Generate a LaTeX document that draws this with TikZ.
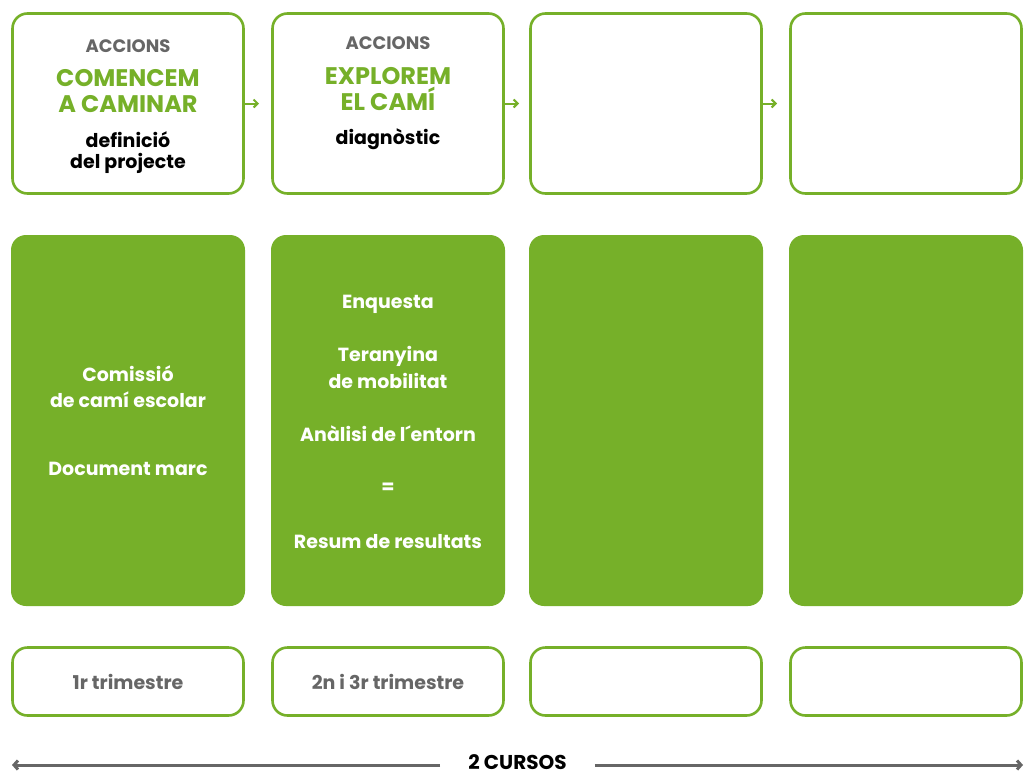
\documentclass[tikz,border=0pt]{standalone}
\usepackage{fontspec}
\setmainfont{Poppins}
\usetikzlibrary{arrows.meta}
\definecolor{verd}{RGB}{118,176,41}
\definecolor{gris}{RGB}{102,102,102}

\begin{document}
\begin{tikzpicture}[x=1pt,y=-1pt,
	caixa/.style={draw=verd, line width=2.6pt, rounded corners=15pt, minimum width=231pt, inner sep=0pt},
	ple/.style={fill=verd, rounded corners=15pt, minimum width=234pt, minimum height=371pt, inner sep=0pt},
	txt/.style={anchor=base, inner sep=0pt, font=\bfseries\fontsize{19}{22}\selectfont},
	accions/.style={txt, text=gris, font=\bfseries\fontsize{18}{21}\selectfont},
	titol/.style={txt, text=verd, font=\bfseries\fontsize{24}{27}\selectfont},
	fletxa/.style={draw=verd, line width=2pt, -{Straight Barb[length=4pt,width=8pt]}}]
		\useasboundingbox[fill=white] (0,0) rectangle (1031,774);
		
		% fila de dalt
		\node[caixa, minimum height=180pt] (t1) at (128,103.5) {};
		\node[caixa, minimum height=180pt] (t2) at (388,103.5) {};
		\node[caixa, minimum height=180pt] (t3) at (646,103.5) {};
		\node[caixa, minimum height=180pt] (t4) at (906,103.5) {};
		
		\node[accions] (acc1) at (128,52) {ACCIONS};
		\node[titol] (com1) at (128,86) {COMENCEM};
		\node[titol] (com2) at (128,112) {A CAMINAR};
		\node[txt] (def1) at (128,147) {definició};
		\node[txt] (def2) at (128,168) {del projecte};
		
		\node[accions] (acc2) at (388,49) {ACCIONS};
		\node[titol] (exp1) at (388,84) {EXPLOREM};
		\node[titol] (exp2) at (388,110) {EL CAMÍ};
		\node[txt] (diag) at (388,144) {diagnòstic};
		
		\coordinate (a1) at (259,103.5);
		\coordinate (a2) at (519,103.5);
		\coordinate (a3) at (777,103.5);
		\draw[fletxa] (t1.east) -- (a1);
		\draw[fletxa] (t2.east) -- (a2);
		\draw[fletxa] (t3.east) -- (a3);
		
		% fila del mig
		\node[ple] (m1) at (128,420.5) {};
		\node[ple] (m2) at (388,420.5) {};
		\node[ple] (m3) at (646,420.5) {};
		\node[ple] (m4) at (906,420.5) {};
		
		\node[txt, text=white] (cm1) at (128,381) {Comissió};
		\node[txt, text=white] (cm2) at (128,407) {de camí escolar};
		\node[txt, text=white] (doc) at (128,475) {Document marc};
		
		\node[txt, text=white] (enq) at (388,308) {Enquesta};
		\node[txt, text=white] (ter1) at (388,361) {Teranyina};
		\node[txt, text=white] (ter2) at (388,388) {de mobilitat};
		\node[txt, text=white] (anal) at (388,441) {Anàlisi de l´entorn};
		\node[txt, text=white] (igual) at (388,493) {=};
		\node[txt, text=white] (res) at (388,548) {Resum de resultats};
		
		% fila de baix
		\node[caixa, minimum height=68pt] (b1) at (128,681.5) {};
		\node[caixa, minimum height=68pt] (b2) at (388,681.5) {};
		\node[caixa, minimum height=68pt] (b3) at (646,681.5) {};
		\node[caixa, minimum height=68pt] (b4) at (906,681.5) {};
		
		\node[txt, text=gris] (tr1) at (128,689) {1r trimestre};
		\node[txt, text=gris] (tr2) at (388,689) {2n i 3r trimestre};
		
		% durada
		\node[inner xsep=28pt, inner ysep=0pt, font=\bfseries\fontsize{20}{22}\selectfont] (cursos) at (517.5,762.5) {2 CURSOS};
		\coordinate (esq) at (12,765);
		\coordinate (dre) at (1023,765);
		\draw[gris, line width=3pt, -{Straight Barb[length=4pt,width=9pt]}] (cursos.west |- esq) -- (esq);
		\draw[gris, line width=3pt, -{Straight Barb[length=4pt,width=9pt]}] (cursos.east |- dre) -- (dre);
		
		\end{tikzpicture}
\end{document}
